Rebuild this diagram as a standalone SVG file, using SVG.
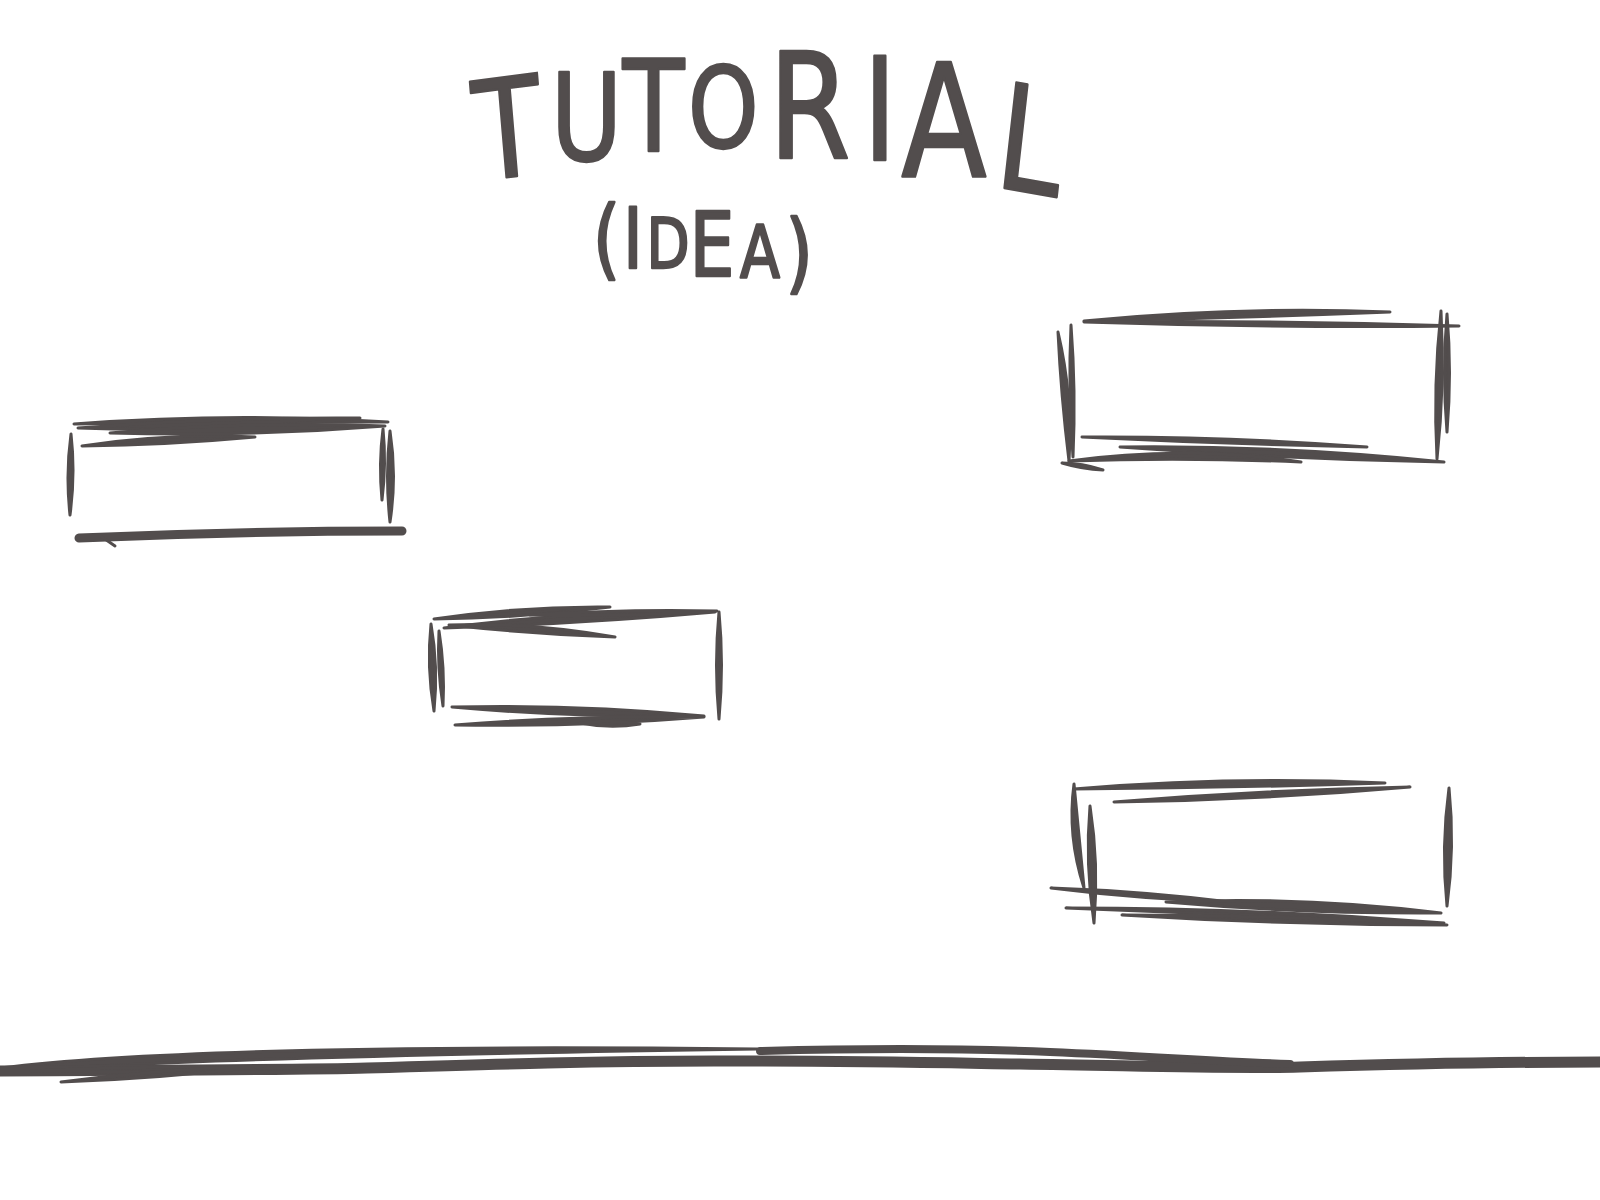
<svg xmlns="http://www.w3.org/2000/svg" width="1600" height="1200" viewBox="0 0 1600 1200">
<style>
.s{fill:#524d4d;stroke:#524d4d;stroke-width:3;stroke-linejoin:round}
.ln{fill:none;stroke:#524d4d;stroke-linecap:round;stroke-linejoin:round}
.t{font-family:"DejaVu Sans","Liberation Sans",sans-serif;fill:#524d4d;stroke:#524d4d;stroke-width:2.5;stroke-linejoin:round;stroke-linecap:round}
</style>
<rect width="1600" height="1200" fill="#ffffff"/>

<g id="title">
<text class="t" transform="scale(0.8,1)" text-anchor="middle">
<tspan x="640" y="181" font-size="137" rotate="-6">T</tspan><tspan x="733" y="160" font-size="122">U</tspan><tspan x="817" y="151" font-size="126">T</tspan><tspan x="904" y="147" font-size="112">O</tspan><tspan x="1012" y="158" font-size="147">R</tspan><tspan x="1100" y="160" font-size="143">I</tspan><tspan x="1180" y="176" font-size="156">A</tspan><tspan x="1282" y="186" font-size="146" rotate="8">L</tspan>
</text>
<text class="t" transform="scale(0.8,1)" text-anchor="middle">
<tspan x="758" y="268" font-size="88">(</tspan><tspan x="791" y="268" font-size="84">I</tspan><tspan x="835" y="268" font-size="70">D</tspan><tspan x="890" y="276" font-size="89">E</tspan><tspan x="950" y="278" font-size="73">A</tspan><tspan x="999" y="282" font-size="88">)</tspan>
</text>
</g>

<g id="n1">
<path class="s" d="M74,424 Q231,412 388,422 Q231,422 74,424Z"/>
<path class="s" d="M78,428 Q219,417 360,418 Q219,433 78,428Z"/>
<path class="s" d="M82,446 Q168,433 255,437 Q168,445 82,446Z"/>
<path class="s" d="M110,433 Q247,421 385,426 Q247,437 110,433Z"/>
<path class="s" d="M71,434 Q65.5,474 70,515 Q75.5,474 71,434Z"/>
<path class="s" d="M383,429 Q378.5,464 382,500 Q386.5,464 383,429Z"/>
<path class="s" d="M390,431 Q385,476 390,522 Q397,476 390,431Z"/>
<path class="ln" stroke-width="9" d="M79,538 Q240,531 402,531"/>
<path class="ln" stroke-width="3" d="M102,537 L115,546"/>
</g>

<g id="n2">
<path class="s" d="M434,619 Q522,606 610,607 Q522,618 434,619Z"/>
<path class="s" d="M444,628 Q579,610 715,612 Q579,624 444,628Z"/>
<path class="s" d="M449,625 Q532,622 615,637 Q532,634 449,625Z"/>
<path class="s" d="M530,615 Q623,609 717,611 Q623,617 530,615Z"/>
<path class="s" d="M431,624 Q426.5,667 434,711 Q438.5,667 431,624Z"/>
<path class="s" d="M439,631 Q437,668 443,706 Q445,668 439,631Z"/>
<path class="s" d="M719,612 Q714,665 719,719 Q724,665 719,612Z"/>
<path class="s" d="M452,707 Q578,704 704,716 Q578,718 452,707Z"/>
<path class="s" d="M455,725 Q579,715 704,717 Q579,727 455,725Z"/>
<path class="s" d="M580,723 Q610,719 640,724 Q610,729 580,723Z"/>
</g>

<g id="n3">
<path class="s" d="M1084,321 Q1237,306 1390,312 Q1237,318 1084,321Z"/>
<path class="s" d="M1084,322 Q1271,320 1459,326 Q1271,328 1084,322Z"/>
<path class="s" d="M1058,332 Q1061,396 1069,461 Q1073,396 1058,332Z"/>
<path class="s" d="M1071,325 Q1068,391 1073,457 Q1076,391 1071,325Z"/>
<path class="s" d="M1441,311 Q1433,385 1437,459 Q1445,385 1441,311Z"/>
<path class="s" d="M1447,314 Q1442,373 1447,432 Q1452,373 1447,314Z"/>
<path class="s" d="M1082,437 Q1224,436 1367,447 Q1224,444 1082,437Z"/>
<path class="s" d="M1120,447 Q1282,445 1444,462 Q1282,459 1120,447Z"/>
<path class="s" d="M1069,461 Q1185,445 1301,462 Q1185,457 1069,461Z"/>
<path class="s" d="M1062,463 Q1082,463 1103,470 Q1082,469 1062,463Z"/>
</g>

<g id="n4">
<path class="s" d="M1074,789 Q1229,776 1385,783 Q1229,788 1074,789Z"/>
<path class="s" d="M1114,802 Q1262,790 1410,787 Q1262,800 1114,802Z"/>
<path class="s" d="M1074,784 Q1067,836 1084,888 Q1079,836 1074,784Z"/>
<path class="s" d="M1090,806 Q1085,864 1094,923 Q1099,864 1090,806Z"/>
<path class="s" d="M1449,788 Q1441,847 1447,906 Q1455,847 1449,788Z"/>
<path class="s" d="M1051,888 Q1140,891 1230,902 Q1140,899 1051,888Z"/>
<path class="s" d="M1066,908 Q1255,908 1444,923 Q1255,916 1066,908Z"/>
<path class="s" d="M1166,902 Q1303,896 1441,913 Q1303,914 1166,902Z"/>
<path class="s" d="M1122,915 Q1284,915 1447,925 Q1284,925 1122,915Z"/>
</g>

<g id="ground">
<path class="s" d="M0,1068 Q200,1043 757,1049 Q200,1057 0,1072Z"/>
<path class="ln" stroke-width="11" d="M0,1071 C150,1070 300,1070 367,1068 C500,1064 600,1061 714,1061 C850,1061 950,1063 1020,1064 C1150,1066 1230,1069 1300,1067 C1400,1064 1500,1062 1600,1062"/>
<path class="ln" stroke-width="8" d="M760,1051 C880,1048 980,1049 1050,1052 C1150,1056 1220,1062 1290,1064"/>
<path class="s" d="M31,1071 Q200,1063 370,1071 Q200,1073 31,1071Z"/>
<path class="s" d="M61,1082 Q160,1069 265,1066 Q160,1079 61,1082Z"/>
</g>
</svg>
